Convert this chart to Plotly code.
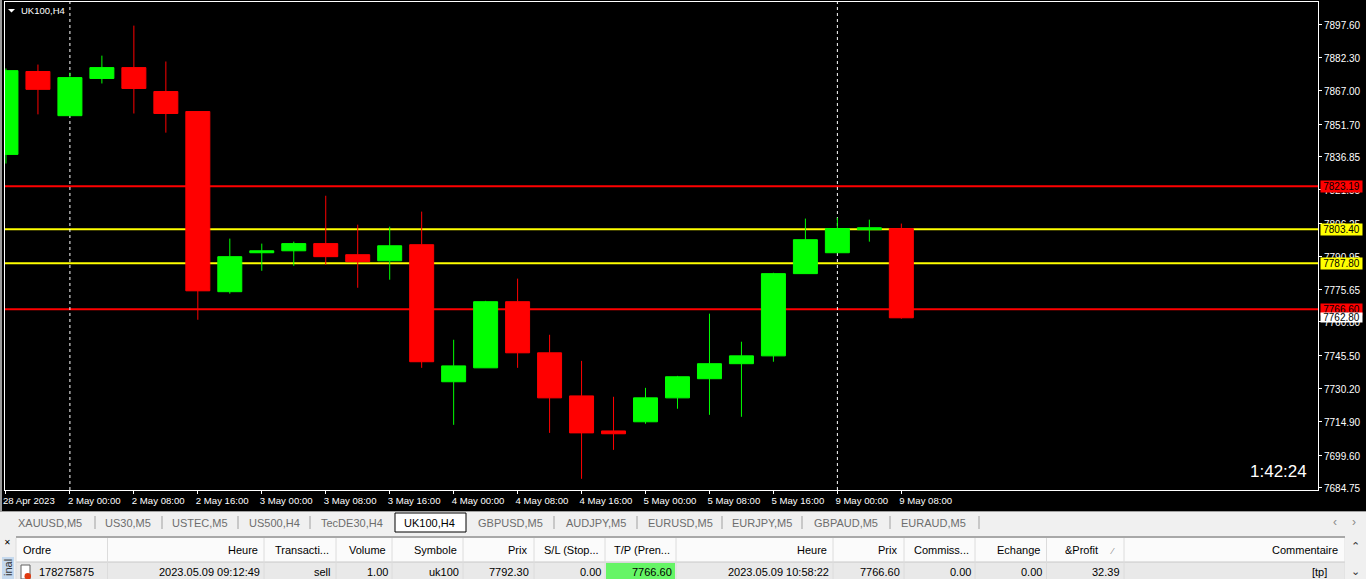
import plotly.graph_objects as go

W, H = 1366, 579
ML, MR, MT, MB = 5, 48, 2, 89
PW, PH = W - ML - MR, H - MT - MB

candle_index = list(range(29))
open_prices = [7837.8, 7875.9, 7855.6, 7872.7, 7877.7, 7866.7, 7857.5, 7774.7, 7792.6, 7793.5,
               7796.8, 7791.7, 7788.9, 7796.3, 7733.3, 7739.7, 7770.1, 7746.6, 7726.8, 7710.7,
               7714.9, 7725.9, 7734.7, 7741.6, 7745.2, 7783.0, 7792.6, 7803.2, 7803.7]
high_prices = [7877.3, 7879.1, 7875.4, 7883.2, 7897.0, 7880.5, 7857.5, 7799.1, 7796.8, 7797.7,
               7818.8, 7805.5, 7804.6, 7811.5, 7752.6, 7770.5, 7780.7, 7754.9, 7742.9, 7726.4,
               7730.5, 7736.0, 7764.6, 7751.7, 7783.4, 7808.3, 7808.7, 7807.8, 7806.0]
low_prices = [7833.6, 7856.2, 7855.6, 7870.4, 7856.6, 7847.8, 7761.8, 7773.8, 7784.3, 7786.6,
              7787.1, 7776.5, 7780.2, 7739.7, 7713.5, 7739.7, 7739.7, 7709.8, 7688.7, 7702.0,
              7714.0, 7720.9, 7718.1, 7717.2, 7742.5, 7783.0, 7792.6, 7797.7, 7762.3]
close_prices = [7876.3, 7867.7, 7873.1, 7877.7, 7868.1, 7856.6, 7775.1, 7790.8, 7793.5, 7796.8,
                7790.8, 7788.5, 7795.8, 7742.5, 7740.6, 7770.1, 7746.6, 7725.9, 7709.8, 7709.4,
                7725.9, 7735.6, 7741.6, 7745.2, 7783.0, 7798.6, 7803.7, 7804.1, 7762.7]

x_tick_index = [-0.03, 2, 4, 6, 8, 10, 12, 14, 16, 18, 20, 22, 24, 26, 28]
x_tick_labels = ["28 Apr 2023", "2 May 00:00", "2 May 08:00", "2 May 16:00", "3 May 00:00",
                 "3 May 08:00", "3 May 16:00", "4 May 00:00", "4 May 08:00", "4 May 16:00",
                 "5 May 00:00", "5 May 08:00", "5 May 16:00", "9 May 00:00", "9 May 08:00"]
y_tick_labels = ["7897.60", "7882.30", "7867.00", "7851.70", "7836.85", "7821.55", "7806.25",
                 "7790.95", "7775.65", "7760.80", "7745.50", "7730.20", "7714.90", "7699.60",
                 "7684.75"]
y_tick_values = [float(t) for t in y_tick_labels]

level_prices = [7823.19, 7803.40, 7787.80, 7766.60]
level_colors = ["#ff0000", "#ffff00", "#ffff00", "#ff0000"]
bid_price = 7762.80
dashed_index = [2, 26]

tab_labels = ["XAUUSD,M5", "US30,M5", "USTEC,M5", "US500,H4", "TecDE30,H4", "UK100,H4", "GBPUSD,M5",
              "AUDJPY,M5", "EURUSD,M5", "EURJPY,M5", "GBPAUD,M5", "EURAUD,M5"]
tab_centers = [49.5, 128, 200, 274, 352, 429, 510, 596, 680, 762, 846, 933]
tab_separators = [95, 162, 238, 310, 554, 637, 722, 802, 890, 979]

header_labels = ["Heure", "Transacti...", "Volume", "Symbole", "Prix", "S/L (Stop...", "T/P (Pren...",
                 "Heure", "Prix", "Commiss...", "Echange", "&Profit", "Commentaire"]
header_right = [259, 330, 387, 458, 528, 600, 671, 828, 898, 970, 1041, 1099, 1339]
row_values = ["2023.05.09 09:12:49", "sell", "1.00", "uk100", "7792.30", "0.00", "7766.60",
              "2023.05.09 10:58:22", "7766.60", "0.00", "0.00", "32.39", "[tp]"]
row_right = [261, 332, 389, 460, 530, 602, 673, 830, 901, 972, 1043, 1121, 1328]
column_edges = [16, 107.5, 264, 336, 392, 463, 534, 605, 676, 833, 904, 975, 1046.5, 1124, 1345]

FONT = "Liberation Sans"


def px(v):
    return (v - ML) / PW


def py(v):
    return (H - MB - v) / PH


shapes = []
annotations = []


def rect(x0, y0, x1, y1, fill, line=None, lw=1):
    shapes.append(dict(type="rect", xref="paper", yref="paper", x0=px(x0), x1=px(x1), y0=py(y0), y1=py(y1),
                       fillcolor=fill, line=dict(color=line or fill, width=lw if line else 0), layer="above"))


def seg(x0, y0, x1, y1, color, lw=1):
    shapes.append(dict(type="line", xref="paper", yref="paper", x0=px(x0), x1=px(x1), y0=py(y0), y1=py(y1),
                       line=dict(color=color, width=lw), layer="above"))


def note(x, y, text, anchor="left", color="#000000", size=11, angle=0):
    annotations.append(dict(xref="paper", yref="paper", x=px(x), y=py(y), text=text, showarrow=False,
                            xanchor=anchor, yanchor="middle", textangle=angle, borderpad=0,
                            font=dict(family=FONT, size=size, color=color)))


# price levels and period separators sit behind the candles
for price, color in zip(level_prices, level_colors):
    shapes.append(dict(type="line", xref="paper", yref="y", x0=0, x1=1, y0=price, y1=price,
                       line=dict(color=color, width=2), layer="below"))
for i in dashed_index:
    shapes.append(dict(type="line", xref="x", yref="paper", x0=i, x1=i, y0=0, y1=1,
                       line=dict(color="#ffffff", width=1, dash="3px,3px"), layer="below"))

# price tags on the right axis
for price, color in zip(level_prices, level_colors):
    annotations.append(dict(xref="paper", yref="y", x=1, y=price, xanchor="left", yanchor="middle", xshift=2,
                            text=f"{price:.2f}", showarrow=False, bgcolor=color, width=41, height=11, borderpad=0,
                            font=dict(family=FONT, size=10, color="#000000")))
annotations.append(dict(xref="paper", yref="y", x=1, y=bid_price, xanchor="left", yanchor="middle", xshift=2,
                        text=f"{bid_price:.2f}", showarrow=False, bgcolor="#ffffff", width=41, height=9, borderpad=0,
                        font=dict(family=FONT, size=10, color="#000000")))

# left window edge
rect(0, 0, 2, 511, "#9a9a9a")

# chart title and countdown
shapes.append(dict(type="path", xref="paper", yref="paper",
                   path=f"M {px(8)} {py(9)} L {px(15)} {py(9)} L {px(11.5)} {py(12.5)} Z",
                   fillcolor="#ffffff", line=dict(width=0), layer="above"))
note(20, 10, "UK100,H4", color="#ffffff", size=9.5)
note(1308, 471, "1:42:24", anchor="right", color="#ffffff", size=17)

# terminal strip: tabs
rect(0, 511, W, 537, "#f0f0f0")
seg(0, 511.5, W, 511.5, "#a0a0a0")
rect(395, 513, 466, 532, "#ffffff", "#000000")
for x in tab_separators:
    seg(x, 516, x, 529, "#a0a0a0")
for label, x in zip(tab_labels, tab_centers):
    note(x, 522.5, label, anchor="center", color="#000000" if label == "UK100,H4" else "#6d6d6d", size=11)
note(1335, 522, "‹", anchor="center", color="#8a8a8a", size=12)
note(1354, 522, "›", anchor="center", color="#8a8a8a", size=12)

# terminal strip: table
rect(0, 537, W, 579, "#f0f0f0")
rect(16, 537, 1345, 562, "#fbfbfb")
rect(16, 562, 1345, 579, "#e9e9e9")
seg(16, 537, 1345, 537, "#a8a8a8", 2)
seg(16, 562, 1345, 562, "#c8c8c8")
for x in column_edges:
    seg(x, 538, x, 579, "#dcdcdc")
rect(606, 563, 675, 579, "#66f566")
rect(2, 557, 14, 579, "#c5d9ee")
note(8, 568, "inal", anchor="center", color="#333333", size=11, angle=-90)
note(7, 542, "✕", anchor="center", size=8)
note(22, 550, "Ordre")
note(38, 572, "178275875")
rect(21, 565, 30, 579, "#ffffff", "#606060")
shapes.append(dict(type="circle", xref="paper", yref="paper", x0=px(24.5), x1=px(31), y0=py(573), y1=py(579.5),
                   fillcolor="#e03a10", line=dict(width=0), layer="above"))
for label, x in zip(header_labels, header_right):
    note(x, 550, label, anchor="right")
for value, x in zip(row_values, row_right):
    note(x, 572, value, anchor="right")
note(1112, 551, "⁄", anchor="center", color="#888888", size=9)
rect(1345, 537, W, 579, "#f0f0f0")
note(1355, 546, "⌃", anchor="center", color="#333333", size=11)
note(1355, 571, "⌄", anchor="center", color="#333333", size=11)

fig = go.Figure(go.Candlestick(
    x=candle_index, open=open_prices, high=high_prices, low=low_prices, close=close_prices,
    whiskerwidth=0,
    increasing=dict(line=dict(color="#00ff00", width=1), fillcolor="#00ff00"),
    decreasing=dict(line=dict(color="#ff0000", width=1), fillcolor="#ff0000"),
    hoverinfo="skip", showlegend=False,
))

fig.update_layout(
    width=W, height=H, margin=dict(l=ML, r=MR, t=MT, b=MB, pad=0, autoexpand=False),
    paper_bgcolor="#000000", plot_bgcolor="#000000", showlegend=False, boxgap=0.25, boxgroupgap=0,
    font=dict(family=FONT, size=10, color="#ffffff"),
    shapes=shapes, annotations=annotations,
    xaxis=dict(type="linear", range=[-0.03, 41.03], rangeslider=dict(visible=False), showgrid=False, zeroline=False,
               showline=True, mirror=True, linecolor="#ffffff", linewidth=1,
               tickmode="array", tickvals=x_tick_index, ticktext=x_tick_labels, tickangle=0,
               ticks="outside", ticklen=3, tickcolor="#ffffff", ticklabelposition="outside right",
               ticklabelshift=-3, ticklabelstandoff=1,
               tickfont=dict(family=FONT, size=9.6, color="#ffffff")),
    yaxis=dict(type="linear", range=[7683.55, 7907.85], side="right", showgrid=False, zeroline=False,
               showline=True, mirror=True, linecolor="#ffffff", linewidth=1,
               tickmode="array", tickvals=y_tick_values, ticktext=y_tick_labels,
               ticks="outside", ticklen=3, tickcolor="#ffffff", ticklabelshift=1,
               tickfont=dict(family=FONT, size=10, color="#ffffff")),
)

fig.write_html("out.html", config=dict(displayModeBar=False),
               post_script="document.body.style.margin='0';document.documentElement.style.overflow='hidden';")
